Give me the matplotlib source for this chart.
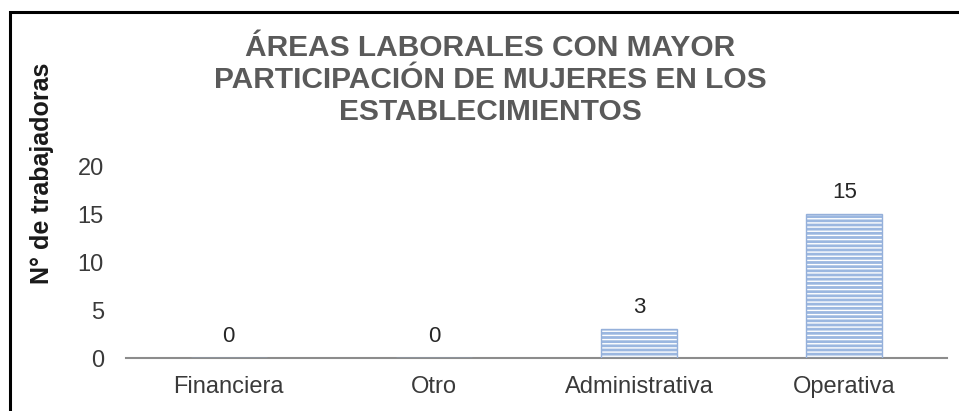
import matplotlib.pyplot as plt
import matplotlib.patches as mpatches

plt.rcParams['font.family'] = ['Liberation Sans', 'DejaVu Sans']
plt.rcParams['hatch.linewidth'] = 1.0

categorias = ["Financiera", "Otro", "Administrativa", "Operativa"]
trabajadoras = [0, 0, 3, 15]
ticks_y = [0, 5, 10, 15, 20]

titulo = "ÁREAS LABORALES CON MAYOR\nPARTICIPACIÓN DE MUJERES EN LOS\nESTABLECIMIENTOS"
eje_y = "N° de trabajadoras"

W, H = 959, 411
fig = plt.figure(figsize=(W / 100, H / 100), dpi=100)
ax = fig.add_axes([126 / W, 1 - 358 / H, (947 - 126) / W, (358 - 166) / H])

x = range(len(categorias))
# relleno azul con rayas blancas horizontales
ax.bar(x, trabajadoras, width=0.37, color="#9bb7e0", edgecolor="white",
       hatch="----", linewidth=0, zorder=2)
ax.bar(x, trabajadoras, width=0.37, fill=False, edgecolor="#95b0da",
       linewidth=1.0, zorder=3)

for xi, v in zip(x, trabajadoras):
    ax.annotate(str(v), (xi, v), xytext=(0, 8), textcoords="offset points",
                ha="center", va="bottom", fontsize=16, color="#262626")

ax.set_xlim(-0.5, len(categorias) - 0.5)
ax.set_ylim(0, 20)
ax.set_yticks(ticks_y)
ax.set_xticks(list(x))
ax.set_xticklabels(categorias)
ax.tick_params(axis="both", length=0, labelsize=17, colors="#3a3a3a")
ax.tick_params(axis="y", pad=16)
ax.tick_params(axis="x", pad=13)
for s in ["top", "right", "left"]:
    ax.spines[s].set_visible(False)
ax.spines["bottom"].set_color("#8c8c8c")
ax.spines["bottom"].set_linewidth(1.5)

fig.text(490 / W, 1 - 80 / H, titulo, ha="center", va="center",
         fontsize=21.5, fontweight="bold", color="#5a5a5a", linespacing=1.2)
fig.text(42 / W, 1 - 173 / H, eje_y, rotation=90, ha="center", va="center",
         fontsize=18, fontweight="bold", color="#1a1a1a")

# marco negro (solo se ven los bordes izquierdo y superior)
fig.add_artist(mpatches.Rectangle((10 / W, -0.2), 1.2, 1 - 12 / H + 0.2,
                                  transform=fig.transFigure, fill=False,
                                  edgecolor="black", linewidth=2.2))

fig.savefig("out.png", dpi=100)
